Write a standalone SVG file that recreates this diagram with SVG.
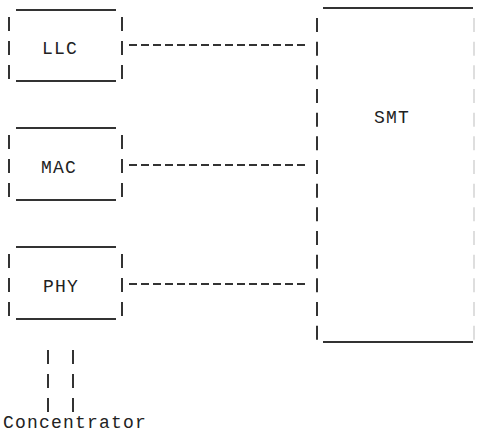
<svg xmlns="http://www.w3.org/2000/svg" width="478" height="433" viewBox="0 0 478 433">
<style>
.t{font-family:"Liberation Mono","DejaVu Sans Mono",monospace;font-size:18px;fill:#222;letter-spacing:1.2px}
.u{stroke:#333;stroke-width:1.8;fill:none}
.b{stroke:#333;stroke-width:2;fill:none;stroke-dasharray:14 10}
.bs{stroke:#333;stroke-width:2;fill:none;stroke-dasharray:14 9.67}
.bf{stroke:#d4d4d4;stroke-width:1.5;fill:none;stroke-dasharray:14 9.67}
.d{stroke:#333;stroke-width:1.8;fill:none;stroke-dasharray:8 4}
</style>
<rect width="478" height="433" fill="#fff"/>
<g id="LLC">
<line class="u" x1="16" y1="10" x2="116" y2="10"/>
<line class="u" x1="16" y1="81" x2="116" y2="81"/>
<line class="b" x1="9" y1="17" x2="9" y2="79"/>
<line class="b" x1="122" y1="17" x2="122" y2="79"/>
<text class="t" x="42" y="54">LLC</text>
</g>
<g id="MAC">
<line class="u" x1="16" y1="128" x2="116" y2="128"/>
<line class="u" x1="16" y1="200" x2="116" y2="200"/>
<line class="b" x1="9" y1="135" x2="9" y2="197"/>
<line class="b" x1="122" y1="135" x2="122" y2="197"/>
<text class="t" x="41" y="173">MAC</text>
</g>
<g id="PHY">
<line class="u" x1="16" y1="247" x2="116" y2="247"/>
<line class="u" x1="16" y1="319" x2="116" y2="319"/>
<line class="b" x1="9" y1="254" x2="9" y2="316"/>
<line class="b" x1="122" y1="254" x2="122" y2="316"/>
<text class="t" x="43" y="292">PHY</text>
</g>
<g id="SMT">
<line class="u" x1="323" y1="8" x2="473" y2="8"/>
<line class="u" x1="323" y1="342" x2="473" y2="342"/>
<line class="bs" x1="317" y1="18" x2="317" y2="340"/>
<line class="bf" x1="474" y1="18" x2="474" y2="340"/>
<text class="t" x="374" y="123">SMT</text>
</g>
<g id="connectors">
<line class="d" x1="129" y1="45" x2="306" y2="45"/>
<line class="d" x1="129" y1="165" x2="306" y2="165"/>
<line class="d" x1="129" y1="284" x2="306" y2="284"/>
<line class="b" x1="48" y1="350" x2="48" y2="412"/>
<line class="b" x1="73" y1="350" x2="73" y2="412"/>
</g>
<g id="Concentrator">
<text class="t" x="3" y="428">Concentrator</text>
</g>
</svg>
